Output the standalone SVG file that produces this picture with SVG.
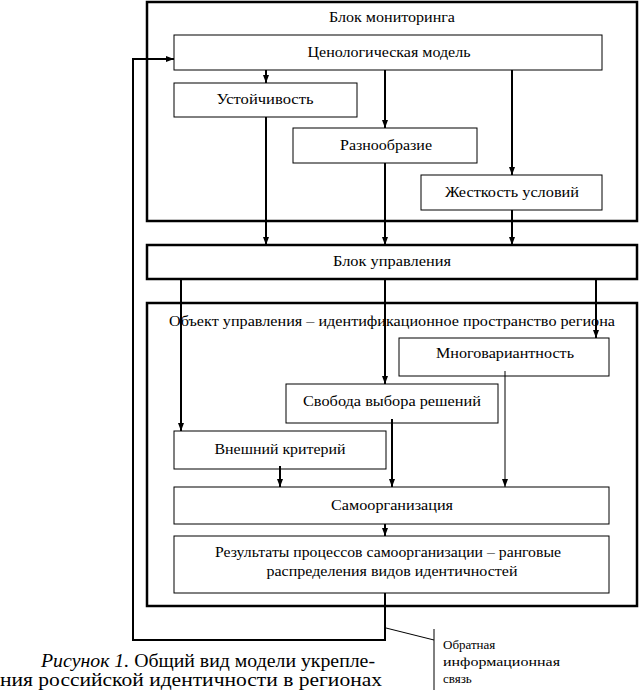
<svg xmlns="http://www.w3.org/2000/svg" width="639" height="695" viewBox="0 0 639 695">
<defs>
<style>
.outer{fill:none;stroke:#000;stroke-width:2.5}
.box{fill:#fff;stroke:#000;stroke-width:1}
.t{font-family:"Liberation Serif","Times New Roman",serif;font-size:15px;fill:#000;text-anchor:middle}
.c{fill:none;stroke:#000;stroke-width:2}
.thin{fill:none;stroke:#000;stroke-width:1}
.cap{font-family:"Liberation Serif","Times New Roman",serif;font-size:18px;fill:#000}
.note{font-family:"Liberation Serif","Times New Roman",serif;font-size:13px;fill:#000}
</style>
<marker id="ah" viewBox="0 0 8 6" refX="8" refY="3" markerWidth="8" markerHeight="6" markerUnits="userSpaceOnUse" orient="auto">
<path d="M0,0 L8,3 L0,6 z" fill="#000"/>
</marker>
</defs>
<g id="monitoring-block">
<rect class="outer" x="147" y="2" width="490" height="219"/>
<text class="t" x="392" y="22" textLength="126" lengthAdjust="spacingAndGlyphs">Блок мониторинга</text>
</g>
<g id="cenological-model">
<rect class="box" x="174" y="35" width="428" height="35"/>
<text class="t" x="389" y="57" textLength="163" lengthAdjust="spacingAndGlyphs">Ценологическая модель</text>
</g>
<g id="stability">
<rect class="box" x="174" y="83" width="183" height="34"/>
<text class="t" x="265" y="104" textLength="97" lengthAdjust="spacingAndGlyphs">Устойчивость</text>
</g>
<g id="diversity">
<rect class="box" x="293" y="128" width="184" height="35"/>
<text class="t" x="386" y="150" textLength="92" lengthAdjust="spacingAndGlyphs">Разнообразие</text>
</g>
<g id="rigidity">
<rect class="box" x="421" y="175" width="181" height="35"/>
<text class="t" x="512" y="197" textLength="134" lengthAdjust="spacingAndGlyphs">Жесткость условий</text>
</g>
<g id="control-block">
<rect class="outer" x="147" y="245" width="490" height="34"/>
<text class="t" x="392" y="266" textLength="118" lengthAdjust="spacingAndGlyphs">Блок управления</text>
</g>
<g id="control-object">
<rect class="outer" x="147" y="303" width="490" height="303"/>
<text class="t" x="392" y="326" textLength="446" lengthAdjust="spacingAndGlyphs">Объект управления – идентификационное пространство региона</text>
</g>
<g id="multivariance">
<rect class="box" x="399" y="338" width="210" height="38"/>
<text class="t" x="505" y="358" textLength="138" lengthAdjust="spacingAndGlyphs">Многовариантность</text>
</g>
<g id="freedom">
<rect class="box" x="286" y="384" width="212" height="39"/>
<text class="t" x="392" y="406" textLength="178" lengthAdjust="spacingAndGlyphs">Свобода выбора решений</text>
</g>
<g id="external-criterion">
<rect class="box" x="174" y="431" width="212" height="38"/>
<text class="t" x="280" y="454" textLength="131" lengthAdjust="spacingAndGlyphs">Внешний критерий</text>
</g>
<g id="self-organization">
<rect class="box" x="174" y="487" width="435" height="37"/>
<text class="t" x="392" y="510" textLength="122" lengthAdjust="spacingAndGlyphs">Самоорганизация</text>
</g>
<g id="results">
<rect class="box" x="174" y="536" width="435" height="57"/>
<text class="t" x="388" y="557" textLength="346" lengthAdjust="spacingAndGlyphs">Результаты процессов самоорганизации – ранговые</text>
<text class="t" x="392" y="576" textLength="251" lengthAdjust="spacingAndGlyphs">распределения видов идентичностей</text>
</g>
<g id="connectors">
<line class="c" x1="266" y1="70" x2="266" y2="83" marker-end="url(#ah)"/>
<line class="c" x1="385" y1="70" x2="385" y2="128" marker-end="url(#ah)"/>
<line class="c" x1="512" y1="70" x2="512" y2="175" marker-end="url(#ah)"/>
<line class="c" x1="266" y1="117" x2="266" y2="245" marker-end="url(#ah)"/>
<line class="c" x1="385" y1="163" x2="385" y2="245" marker-end="url(#ah)"/>
<line class="c" x1="512" y1="210" x2="512" y2="245" marker-end="url(#ah)"/>
<line class="c" x1="181" y1="279" x2="181" y2="431" marker-end="url(#ah)"/>
<line class="c" x1="385" y1="279" x2="385" y2="384" marker-end="url(#ah)"/>
<line class="c" x1="596" y1="279" x2="596" y2="338" marker-end="url(#ah)"/>
<line class="c" x1="280" y1="466" x2="280" y2="487" marker-end="url(#ah)"/>
<line class="c" x1="392" y1="419" x2="392" y2="487" marker-end="url(#ah)"/>
<line class="thin" x1="505" y1="371" x2="505" y2="487" marker-end="url(#ah)"/>
<line class="c" x1="385" y1="524" x2="385" y2="536" marker-end="url(#ah)"/>
<polyline class="c" points="385,593 385,640 133,640 133,59 174,59" marker-end="url(#ah)"/>
<line class="thin" x1="386" y1="628" x2="434" y2="640"/>
<line class="thin" x1="434" y1="629" x2="434" y2="690"/>
</g>
<g id="feedback-label">
<text class="note" x="443" y="649">Обратная</text>
<text class="note" x="443" y="666" textLength="117" lengthAdjust="spacingAndGlyphs">информационная</text>
<text class="note" x="443" y="683">связь</text>
</g>
<g id="caption">
<text class="cap" x="41" y="667" textLength="334" lengthAdjust="spacingAndGlyphs"><tspan font-style="italic">Рисунок 1.</tspan> Общий вид модели укрепле-</text>
<text class="cap" x="0" y="686" textLength="382" lengthAdjust="spacingAndGlyphs">ния российской идентичности в регионах</text>
</g>
</svg>
